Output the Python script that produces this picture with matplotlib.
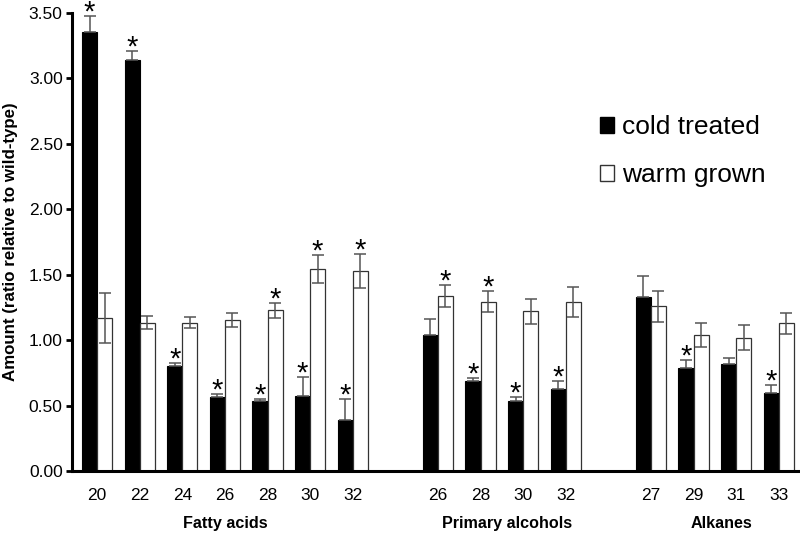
import matplotlib
matplotlib.use("Agg")
import matplotlib.pyplot as plt
from matplotlib.patches import Patch
import numpy as np

plt.rcParams['font.family'] = ['Liberation Sans', 'DejaVu Sans']

tick_labels = ["20", "22", "24", "26", "28", "30", "32",
               "26", "28", "30", "32",
               "27", "29", "31", "33"]
slots = [0, 1, 2, 3, 4, 5, 6, 8, 9, 10, 11, 13, 14, 15, 16]
groups = ["Fatty acids", "Primary alcohols", "Alkanes"]
group_pos = [3.0, 9.62, 14.65]

cold = [3.35, 3.14, 0.80, 0.565, 0.535, 0.575, 0.39,
        1.04, 0.69, 0.54, 0.63,
        1.33, 0.79, 0.82, 0.60]
cold_err = [0.125, 0.07, 0.025, 0.025, 0.02, 0.145, 0.165,
            0.12, 0.025, 0.025, 0.06,
            0.16, 0.06, 0.048, 0.058]
warm = [1.17, 1.135, 1.135, 1.155, 1.23, 1.545, 1.53,
        1.34, 1.295, 1.22, 1.295,
        1.26, 1.04, 1.02, 1.13]
warm_err = [0.19, 0.05, 0.045, 0.05, 0.058, 0.105, 0.13,
            0.085, 0.08, 0.095, 0.115,
            0.12, 0.09, 0.093, 0.08]
cold_sig = [1, 1, 1, 1, 1, 1, 1, 0, 1, 1, 1, 0, 1, 0, 1]
warm_sig = [0, 0, 0, 0, 1, 1, 1, 1, 1, 0, 0, 0, 0, 0, 0]

fig = plt.figure(figsize=(8, 5.33), dpi=100)
ax = fig.add_axes([0.0905, 0.1158, 0.9095, 0.8602])

x = np.array(slots, dtype=float)
w = 0.353
ecol = '#555555'
ax.bar(x - w/2, cold, width=w, color='black', edgecolor='black', linewidth=0.8, zorder=2)
ax.bar(x + w/2, warm, width=w, color='white', edgecolor='#333333', linewidth=0.9, zorder=2)
ax.errorbar(x - w/2, cold, yerr=[np.zeros(len(cold)), cold_err], fmt='none',
            ecolor=ecol, elinewidth=1.1, capsize=4, capthick=1.1, zorder=3)
ax.errorbar(x + w/2, warm, yerr=warm_err, fmt='none',
            ecolor=ecol, elinewidth=1.1, capsize=4, capthick=1.1, zorder=3)

star_kw = dict(ha='center', va='center', fontsize=21, clip_on=False)
for xi, v, e, s in zip(x - w/2, cold, cold_err, cold_sig):
    if s:
        ax.text(xi, v + e + 0.025, "*", **star_kw)
for xi, v, e, s in zip(x + w/2, warm, warm_err, warm_sig):
    if s:
        ax.text(xi, v + e + 0.025, "*", **star_kw)

ax.set_xlim(-0.58, 16.5)
ax.set_ylim(0, 3.5)
ax.set_yticks(np.arange(0, 3.51, 0.5))
ax.set_yticklabels([f"{v:.2f}" for v in np.arange(0, 3.51, 0.5)], fontsize=12.5)
ax.set_xticks(x)
ax.set_xticklabels(tick_labels, fontsize=12.5)
ax.tick_params(axis='x', length=0, pad=12)
ax.tick_params(axis='y', length=4, width=2, pad=3, direction='out')

for sp in ['top', 'right']:
    ax.spines[sp].set_visible(False)
ax.spines['left'].set_linewidth(2.2)
ax.spines['bottom'].set_linewidth(2.2)

for g, gp in zip(groups, group_pos):
    ax.text(gp, -0.4, g, ha='center', va='center', fontsize=11.6, fontweight='bold')

ax.set_ylabel("Amount (ratio relative to wild-type)", fontsize=12.2, fontweight='bold', labelpad=8)

handles = [Patch(facecolor='black', edgecolor='black'),
           Patch(facecolor='white', edgecolor='#333333')]
fig.legend(handles, ["cold treated", "warm grown"], loc='upper left',
           bbox_to_anchor=(0.72, 0.828), frameon=False, fontsize=19,
           handlelength=0.55, handleheight=0.55, handletextpad=0.3, labelspacing=0.9)

fig.savefig("out.png", dpi=100)
